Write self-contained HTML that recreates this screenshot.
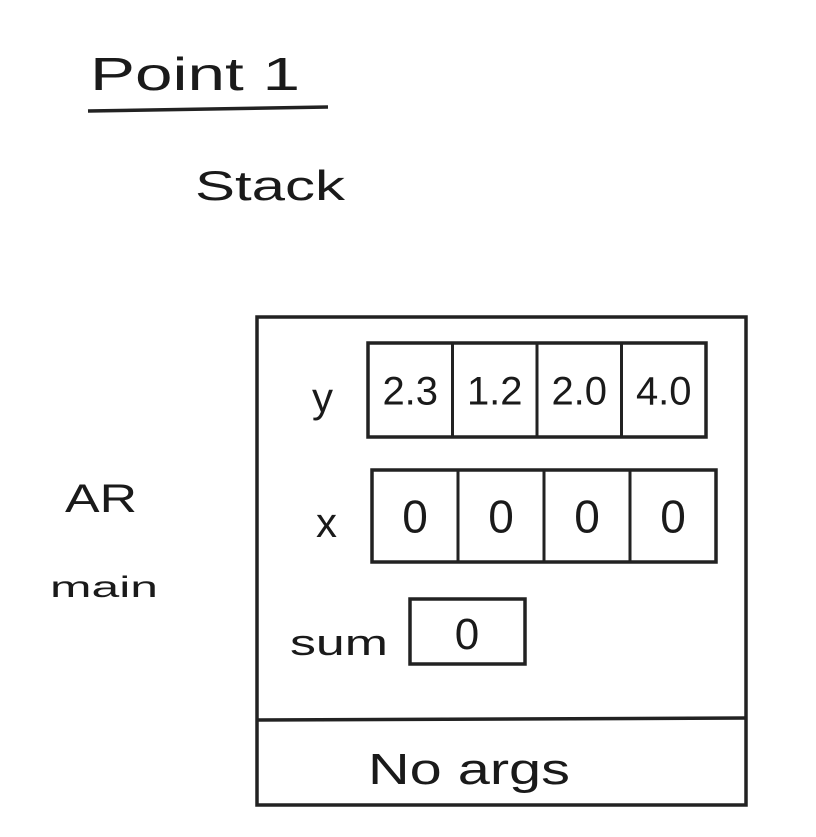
<!DOCTYPE html>
<html><head><meta charset="utf-8"><style>
html,body{margin:0;padding:0;background:#fff;}
svg{display:block;}
text{font-family:"Liberation Sans",sans-serif;fill:#1a1a1a;}
</style></head><body>
<svg id="s" width="816" height="837" viewBox="0 0 816 837">
<text x="90" y="90" font-size="46" textLength="210" lengthAdjust="spacingAndGlyphs">Point 1</text>
<line x1="88" y1="111" x2="328" y2="107" stroke="#222" stroke-width="3.5"/>
<text x="195" y="200" font-size="42" textLength="150" lengthAdjust="spacingAndGlyphs">Stack</text>
<text x="65" y="512" font-size="40" textLength="72" lengthAdjust="spacingAndGlyphs">AR</text>
<text x="50" y="597" font-size="30" textLength="108" lengthAdjust="spacingAndGlyphs">main</text>
<rect x="257" y="317" width="489" height="488" fill="none" stroke="#222" stroke-width="3.5"/>
<line x1="257" y1="720" x2="746" y2="718" stroke="#222" stroke-width="3.5"/>
<text x="368" y="784" font-size="44" textLength="202" lengthAdjust="spacingAndGlyphs">No args</text>
<text x="312" y="412" font-size="42">y</text>
<text x="316" y="537" font-size="42">x</text>
<text x="290" y="655" font-size="36" textLength="98" lengthAdjust="spacingAndGlyphs">sum</text>
<rect x="410" y="599" width="115" height="65" fill="none" stroke="#222" stroke-width="3.5"/>
<text x="467" y="649" font-size="44" text-anchor="middle">0</text>
<g id="cells"></g>
</svg>
<script>
var yValues=["2.3","1.2","2.0","4.0"];
var xValues=["0","0","0","0"];
var g=document.getElementById('cells');
var NS="http://www.w3.org/2000/svg";
function row(vals,x0,x1,y0,y1,fs,name){
  var r=document.createElementNS(NS,'rect');
  r.setAttribute('x',x0);r.setAttribute('y',y0);r.setAttribute('width',x1-x0);r.setAttribute('height',y1-y0);
  r.setAttribute('fill','none');r.setAttribute('stroke','#222');r.setAttribute('stroke-width','3.5');
  
  
  g.appendChild(r);
  var w=(x1-x0)/vals.length;
  for(var i=0;i<vals.length;i++){
    if(i>0){var l=document.createElementNS(NS,'line');
      l.setAttribute('x1',x0+i*w);l.setAttribute('x2',x0+i*w);l.setAttribute('y1',y0);l.setAttribute('y2',y1);
      l.setAttribute('stroke','#222');l.setAttribute('stroke-width','3');
      
      
      g.appendChild(l);}
    var t=document.createElementNS(NS,'text');
    t.setAttribute('x',x0+i*w+w/2);t.setAttribute('y',(y0+y1)/2+fs*0.36);
    t.setAttribute('text-anchor','middle');t.setAttribute('font-size',fs);
    t.textContent=vals[i];
    
    
    g.appendChild(t);
  }
}
row(yValues,368,706,343,437,40,'y');
row(xValues,372,716,470,562,46,'x');
</script>
</body></html>
